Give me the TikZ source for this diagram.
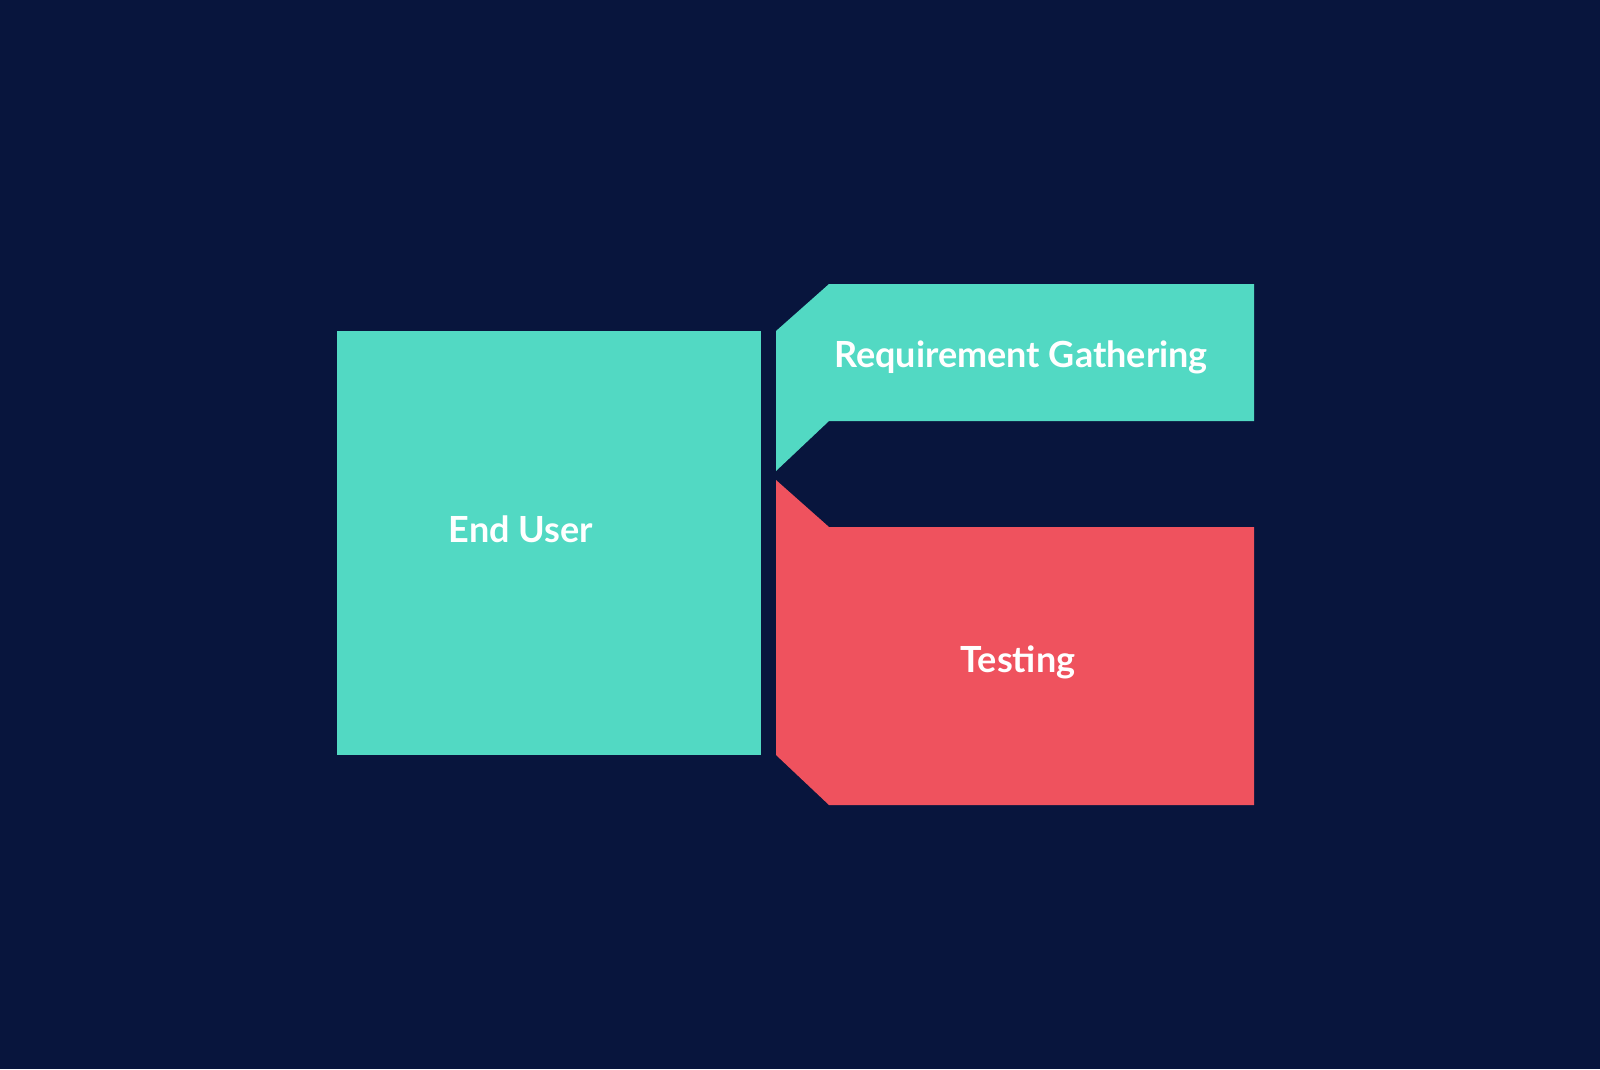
\documentclass[tikz,border=0pt]{standalone}
\usepackage{fontspec}
\setmainfont{Lato}
\definecolor{bg}{HTML}{08153D}
\definecolor{teal}{HTML}{52D9C3}
\definecolor{coral}{HTML}{EF525E}
\begin{document}
\begin{tikzpicture}[x=1pt,y=-1pt,
  lbl/.style={text=white,font=\fontsize{36}{40}\selectfont\bfseries}]
\fill[bg] (0,0) rectangle (1600,1069);
\useasboundingbox (0,0) rectangle (1600,1069);
\fill[teal] (337,331) rectangle (761,755);
\node[lbl] (eu) at (521,529) {End User};
\fill[teal] (776,331) -- (829,284) -- (1254,284) -- (1254,421) -- (829,421) -- (776,471) -- cycle;
\node[lbl] (rg) at (1021,357) {Requirement Gathering};
\fill[coral] (776,480) -- (829,527) -- (1254,527) -- (1254,805) -- (829,805) -- (776,755) -- cycle;
\node[lbl] (ts) at (1018,662) {Testing};
\end{tikzpicture}
\end{document}
